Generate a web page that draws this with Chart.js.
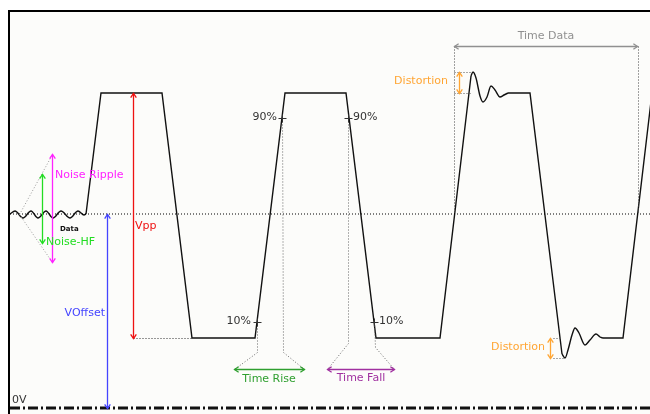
<!DOCTYPE html>
<html>
<head>
<meta charset="utf-8">
<script src="https://cdn.jsdelivr.net/npm/chart.js@4/dist/chart.umd.min.js"></script>
<style>
  html, body { margin: 0; padding: 0; background: #fff; }
  #wrap { position: relative; width: 650px; height: 414px; }
</style>
</head>
<body>
<div id="wrap"><canvas id="sig"></canvas></div>
<script>
// x = time (px-like units), y = level (0 = 0V)
const noiseT = [10, 15, 23, 31, 38, 46, 53, 61, 70, 78, 84, 86];
const noiseV = [194, 197, 190, 197, 190, 197, 190, 197, 190, 197, 193, 194];

const pulseT = [86, 101, 162, 192, 255, 285, 346, 376, 440, 471];
const pulseV = [194, 315, 315, 70, 70, 315, 315, 70, 70, 332];

const ringHiT = [471, 473, 476, 480, 483, 487, 491, 495, 500, 504, 508];
const ringHiV = [332, 336, 330, 312, 306, 311, 322, 318, 311, 313, 315];

const fallT = [508, 530, 562];
const fallV = [315, 315, 54];

const ringLoT = [562, 565, 568, 572, 575, 579, 585, 590, 596, 600, 603];
const ringLoV = [54, 50, 58, 73, 80, 75, 63, 68, 74, 71, 70];

const riseT = [603, 623, 652];
const riseV = [70, 70, 315];

const offsetLevel = 194;

const pts = (ts, vs) => ts.map((t, i) => ({ x: t, y: vs[i] }));

// annotations (data units)
const arrows = [
  { x1: 52, y1: 254, x2: 52, y2: 146, color: '#ff22ff' },
  { x1: 42, y1: 234, x2: 42, y2: 165, color: '#22dd22' },
  { x1: 133, y1: 315, x2: 133, y2: 70, color: '#ee1111' },
  { x1: 107, y1: 194, x2: 107, y2: 0, color: '#4444ff' },
  { x1: 234, y1: 39, x2: 304, y2: 39, color: '#2f9f2f' },
  { x1: 327, y1: 39, x2: 394, y2: 39, color: '#a030a0' },
  { x1: 454, y1: 362, x2: 637, y2: 362, color: '#909090' },
  { x1: 459, y1: 336, x2: 459, y2: 315, color: '#ffa533' },
  { x1: 550, y1: 70, x2: 550, y2: 50, color: '#ffa533' }
];

const guides = [
  { t: [19, 52], v: [194, 254], color: '#999' },
  { t: [19, 52], v: [194, 146], color: '#999' },
  { t: [133, 192], v: [70, 70], color: '#333' },
  { t: [282, 283, 304], v: [290, 56, 39], color: '#666' },
  { t: [257, 257, 234], v: [86, 56, 39], color: '#666' },
  { t: [348, 348, 327], v: [290, 65, 39], color: '#666' },
  { t: [374, 375, 394], v: [86, 61, 39], color: '#666' },
  { t: [454, 454], v: [362, 194], color: '#444' },
  { t: [638, 638], v: [362, 194], color: '#444' },
  { t: [454, 470], v: [336, 336], color: '#555' },
  { t: [454, 470], v: [315, 315], color: '#555' },
  { t: [553, 562], v: [70, 70], color: '#555' },
  { t: [553, 565], v: [50, 50], color: '#555' }
];

const crossT = [282, 257, 348, 374];
const crossV = [290, 86, 290, 86];

const labels = [
  { text: 'Noise Ripple', x: 55, y: 233, color: '#ff22ff', align: 'left' },
  { text: 'Noise-HF', x: 46, y: 166, color: '#22dd22', align: 'left' },
  { text: 'Data', x: 60, y: 179, color: '#111', align: 'left', font: 'bold 7px "DejaVu Sans"' },
  { text: 'Vpp', x: 135, y: 182, color: '#ee1111', align: 'left' },
  { text: 'VOffset', x: 105, y: 95, color: '#4444ff', align: 'right' },
  { text: '0V', x: 12, y: 8, color: '#333', align: 'left' },
  { text: '90%', x: 277, y: 291, color: '#333', align: 'right' },
  { text: '90%', x: 353, y: 291, color: '#333', align: 'left' },
  { text: '10%', x: 251, y: 87, color: '#333', align: 'right' },
  { text: '10%', x: 379, y: 87, color: '#333', align: 'left' },
  { text: 'Time Rise', x: 269, y: 29, color: '#2f9f2f', align: 'center' },
  { text: 'Time Fall', x: 361, y: 30, color: '#a030a0', align: 'center' },
  { text: 'Time Data', x: 546, y: 372, color: '#909090', align: 'center' },
  { text: 'Distortion', x: 448, y: 327, color: '#ffa533', align: 'right' },
  { text: 'Distortion', x: 545, y: 61, color: '#ffa533', align: 'right' }
];

const frameLeft = 9, frameTop = 397;

const annotate = {
  id: 'annotate',
  beforeDraw(chart) {
    const { ctx, scales: { x, y } } = chart;
    const l = x.getPixelForValue(frameLeft), t = y.getPixelForValue(frameTop);
    ctx.save();
    ctx.fillStyle = '#fcfcfa';
    ctx.fillRect(l, t, chart.width - l, chart.height - t);
    ctx.strokeStyle = '#000';
    ctx.lineWidth = 2;
    ctx.beginPath();
    ctx.moveTo(chart.width, t);
    ctx.lineTo(l, t);
    ctx.lineTo(l, chart.height);
    ctx.stroke();
    ctx.restore();
  },
  afterDatasetsDraw(chart) {
    const { ctx, scales: { x, y } } = chart;
    ctx.save();
    // dotted guides
    ctx.lineWidth = 1;
    ctx.setLineDash([1, 2]);
    guides.forEach(g => {
      ctx.strokeStyle = g.color;
      ctx.beginPath();
      g.t.forEach((tv, i) => {
        const px = Math.round(x.getPixelForValue(tv)) + 0.5;
        const py = Math.round(y.getPixelForValue(g.v[i])) + 0.5;
        if (i === 0) ctx.moveTo(px, py); else ctx.lineTo(px, py);
      });
      ctx.stroke();
    });
    ctx.setLineDash([]);

    // arrows with open heads at both ends
    arrows.forEach(a => {
      const x1 = Math.round(x.getPixelForValue(a.x1)) + 0.5, y1 = Math.round(y.getPixelForValue(a.y1)) + 0.5;
      const x2 = Math.round(x.getPixelForValue(a.x2)) + 0.5, y2 = Math.round(y.getPixelForValue(a.y2)) + 0.5;
      ctx.strokeStyle = a.color;
      ctx.lineWidth = 1.3;
      ctx.beginPath();
      ctx.moveTo(x1, y1);
      ctx.lineTo(x2, y2);
      ctx.stroke();
      const ang = Math.atan2(y2 - y1, x2 - x1);
      [[x1, y1, ang + Math.PI], [x2, y2, ang]].forEach(([hx, hy, d]) => {
        const s = 5;
        ctx.beginPath();
        ctx.moveTo(hx - s * Math.cos(d - 0.6), hy - s * Math.sin(d - 0.6));
        ctx.lineTo(hx, hy);
        ctx.lineTo(hx - s * Math.cos(d + 0.6), hy - s * Math.sin(d + 0.6));
        ctx.stroke();
      });
    });

    // 10% / 90% cross marks
    ctx.strokeStyle = '#333';
    ctx.lineWidth = 1;
    crossT.forEach((tv, i) => {
      const px = Math.round(x.getPixelForValue(tv)) + 0.5, py = Math.round(y.getPixelForValue(crossV[i])) + 0.5;
      ctx.beginPath();
      ctx.moveTo(px - 4, py); ctx.lineTo(px + 4, py);
      ctx.moveTo(px, py - 4); ctx.lineTo(px, py + 4);
      ctx.stroke();
    });

    // text labels
    ctx.textBaseline = 'middle';
    labels.forEach(lb => {
      ctx.font = lb.font || '11px "DejaVu Sans"';
      ctx.fillStyle = lb.color;
      ctx.textAlign = lb.align;
      ctx.fillText(lb.text, x.getPixelForValue(lb.x), y.getPixelForValue(lb.y));
    });
    ctx.restore();
  }
};

const lineSet = (data, extra) => Object.assign({
  data, borderColor: '#111', borderWidth: 1.4, pointRadius: 0, tension: 0, fill: false
}, extra);

new Chart(document.getElementById('sig').getContext('2d'), {
  type: 'line',
  data: {
    datasets: [
      lineSet(pts([10, 650], [offsetLevel, offsetLevel]), { borderWidth: 1, borderDash: [1, 2], borderColor: '#000' }),
      lineSet(pts([10, 650], [0, 0]), { borderWidth: 3, borderDash: [10, 3, 2, 3], borderColor: '#111' }),
      lineSet(pts(noiseT, noiseV), { cubicInterpolationMode: 'monotone' }),
      lineSet(pts(pulseT, pulseV)),
      lineSet(pts(ringHiT, ringHiV), { cubicInterpolationMode: 'monotone' }),
      lineSet(pts(fallT, fallV)),
      lineSet(pts(ringLoT, ringLoV), { cubicInterpolationMode: 'monotone' }),
      lineSet(pts(riseT, riseV))
    ]
  },
  options: {
    responsive: true,
    maintainAspectRatio: false,
    animation: false,
    devicePixelRatio: 1,
    layout: { padding: 0 },
    plugins: { legend: { display: false }, tooltip: { enabled: false } },
    scales: {
      x: { type: 'linear', min: 0, max: 650, display: false },
      y: { type: 'linear', min: -6, max: 408, display: false }
    }
  },
  plugins: [annotate]
});
</script>
</body>
</html>
